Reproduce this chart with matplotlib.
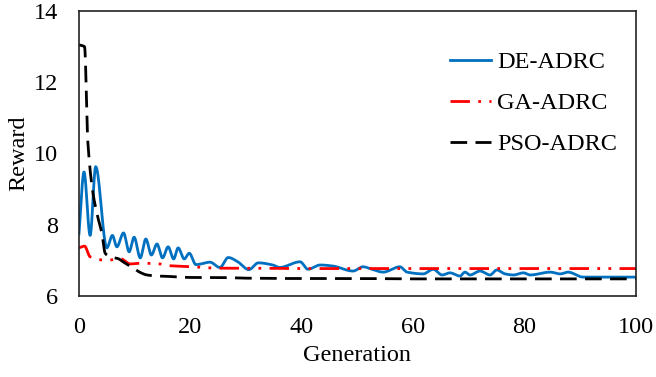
import matplotlib
matplotlib.use("Agg")
from matplotlib import pyplot as plt
import numpy as np

plt.rcParams['font.family'] = ['Liberation Serif', 'DejaVu Serif']

# DE-ADRC
de_gen = [0, 0.9, 2, 3, 5, 6, 6.8, 8, 9, 9.9, 11, 12, 13, 14, 15, 16, 17, 17.8, 18.9, 19.8,
          21, 23.5, 25.3, 26.8, 28.5, 30.5, 32.2, 34.8, 36, 39.7, 41.1, 43.3, 45.6, 49.2,
          51, 52.6, 54.6, 57.6, 58.9, 61.8, 63.6, 65.2, 66.6, 68.4, 69.3, 70.2, 72, 73.8,
          75, 76.5, 78, 79.8, 81, 84.6, 86.4, 87.8, 90.5, 100]
de_val = [7.75, 9.48, 7.7, 9.63, 7.35, 7.7, 7.38, 7.77, 7.24, 7.65, 7.07, 7.6, 7.15, 7.46,
          7.07, 7.38, 7.04, 7.35, 7.04, 7.2, 6.88, 6.95, 6.8, 7.08, 6.96, 6.74, 6.93, 6.87,
          6.8, 6.96, 6.75, 6.87, 6.84, 6.7, 6.82, 6.75, 6.67, 6.82, 6.67, 6.62, 6.75, 6.59,
          6.65, 6.56, 6.67, 6.59, 6.7, 6.59, 6.73, 6.62, 6.59, 6.65, 6.59, 6.67, 6.62, 6.67,
          6.53, 6.53]

# GA-ADRC
ga_gen = [0, 1, 2, 5, 7.4, 9.2, 11, 14.5, 16.3, 20.5, 24.8, 30, 40, 50, 60, 70, 80, 90, 100]
ga_val = [7.35, 7.4, 7.1, 7.0, 7.05, 6.9, 6.92, 6.9, 6.85, 6.82, 6.78, 6.78, 6.77, 6.77,
          6.77, 6.77, 6.77, 6.77, 6.77]

# PSO-ADRC
pso_gen = [0, 1, 1.6, 2.5, 3.4, 4.1, 4.7, 5.6, 7, 8, 9.5, 11, 12.2, 14, 16, 18, 20, 25, 30,
           40, 50, 60, 70, 80, 90, 100]
pso_val = [13.05, 13.0, 10.3, 8.9, 8.2, 7.77, 7.2, 7.1, 7.05, 6.95, 6.81, 6.66, 6.59, 6.56,
           6.55, 6.53, 6.52, 6.52, 6.5, 6.49, 6.49, 6.48, 6.48, 6.48, 6.48, 6.48]


# Function to smooth a curve through the points without overshoot (monotone cubic)
def smooth(x, y):
    x = np.asarray(x, float)
    y = np.asarray(y, float)
    d = np.diff(y) / np.diff(x)
    m = np.zeros_like(y)
    m[0], m[-1] = d[0], d[-1]
    for i in range(1, len(x) - 1):
        if d[i - 1] * d[i] > 0:
            m[i] = 2 / (1 / d[i - 1] + 1 / d[i])
    xs, ys = [], []
    t = np.linspace(0, 1, 20, endpoint=False)
    for i in range(len(x) - 1):
        h = x[i + 1] - x[i]
        h00 = 2 * t**3 - 3 * t**2 + 1
        h10 = t**3 - 2 * t**2 + t
        h01 = -2 * t**3 + 3 * t**2
        h11 = t**3 - t**2
        xs.extend(x[i] + t * h)
        ys.extend(h00 * y[i] + h10 * h * m[i] + h01 * y[i + 1] + h11 * h * m[i + 1])
    xs.append(x[-1])
    ys.append(y[-1])
    return np.array(xs), np.array(ys)


fig = plt.figure(figsize=(6.56, 3.77), dpi=100)
ax = fig.add_axes([0.1204, 0.2149, 0.8491, 0.7559])

x, y = smooth(de_gen, de_val)
ax.plot(x, y, color='#0070C0', lw=2.0, label='DE-ADRC')
x, y = smooth(ga_gen, ga_val)
ax.plot(x, y, color='#FF0000', lw=2.0, dashes=(7, 3, 1, 3, 1, 3), label='GA-ADRC')
x, y = smooth(pso_gen, pso_val)
ax.plot(x, y, color='black', lw=2.0, dashes=(6, 3), label='PSO-ADRC')

ax.set_xlim(0, 100)
ax.set_ylim(6, 14)
ax.set_xticks([0, 20, 40, 60, 80, 100])
ax.set_yticks([6, 8, 10, 12, 14])
ax.tick_params(axis='both', length=0, labelsize=17.5)
ax.tick_params(axis='x', pad=15)
ax.tick_params(axis='y', pad=15)
for s in ax.spines.values():
    s.set_linewidth(1.2)
    s.set_color('#222222')

ax.set_xlabel('Generation', fontsize=17.5, labelpad=5)
ax.set_ylabel('Reward', fontsize=17.5, labelpad=3)

ax.legend(loc='upper right', bbox_to_anchor=(1.005, 0.936), frameon=False, fontsize=17.5,
          handlelength=1.7, handletextpad=0.25, labelspacing=0.78)

fig.savefig('out.png', dpi=100)
